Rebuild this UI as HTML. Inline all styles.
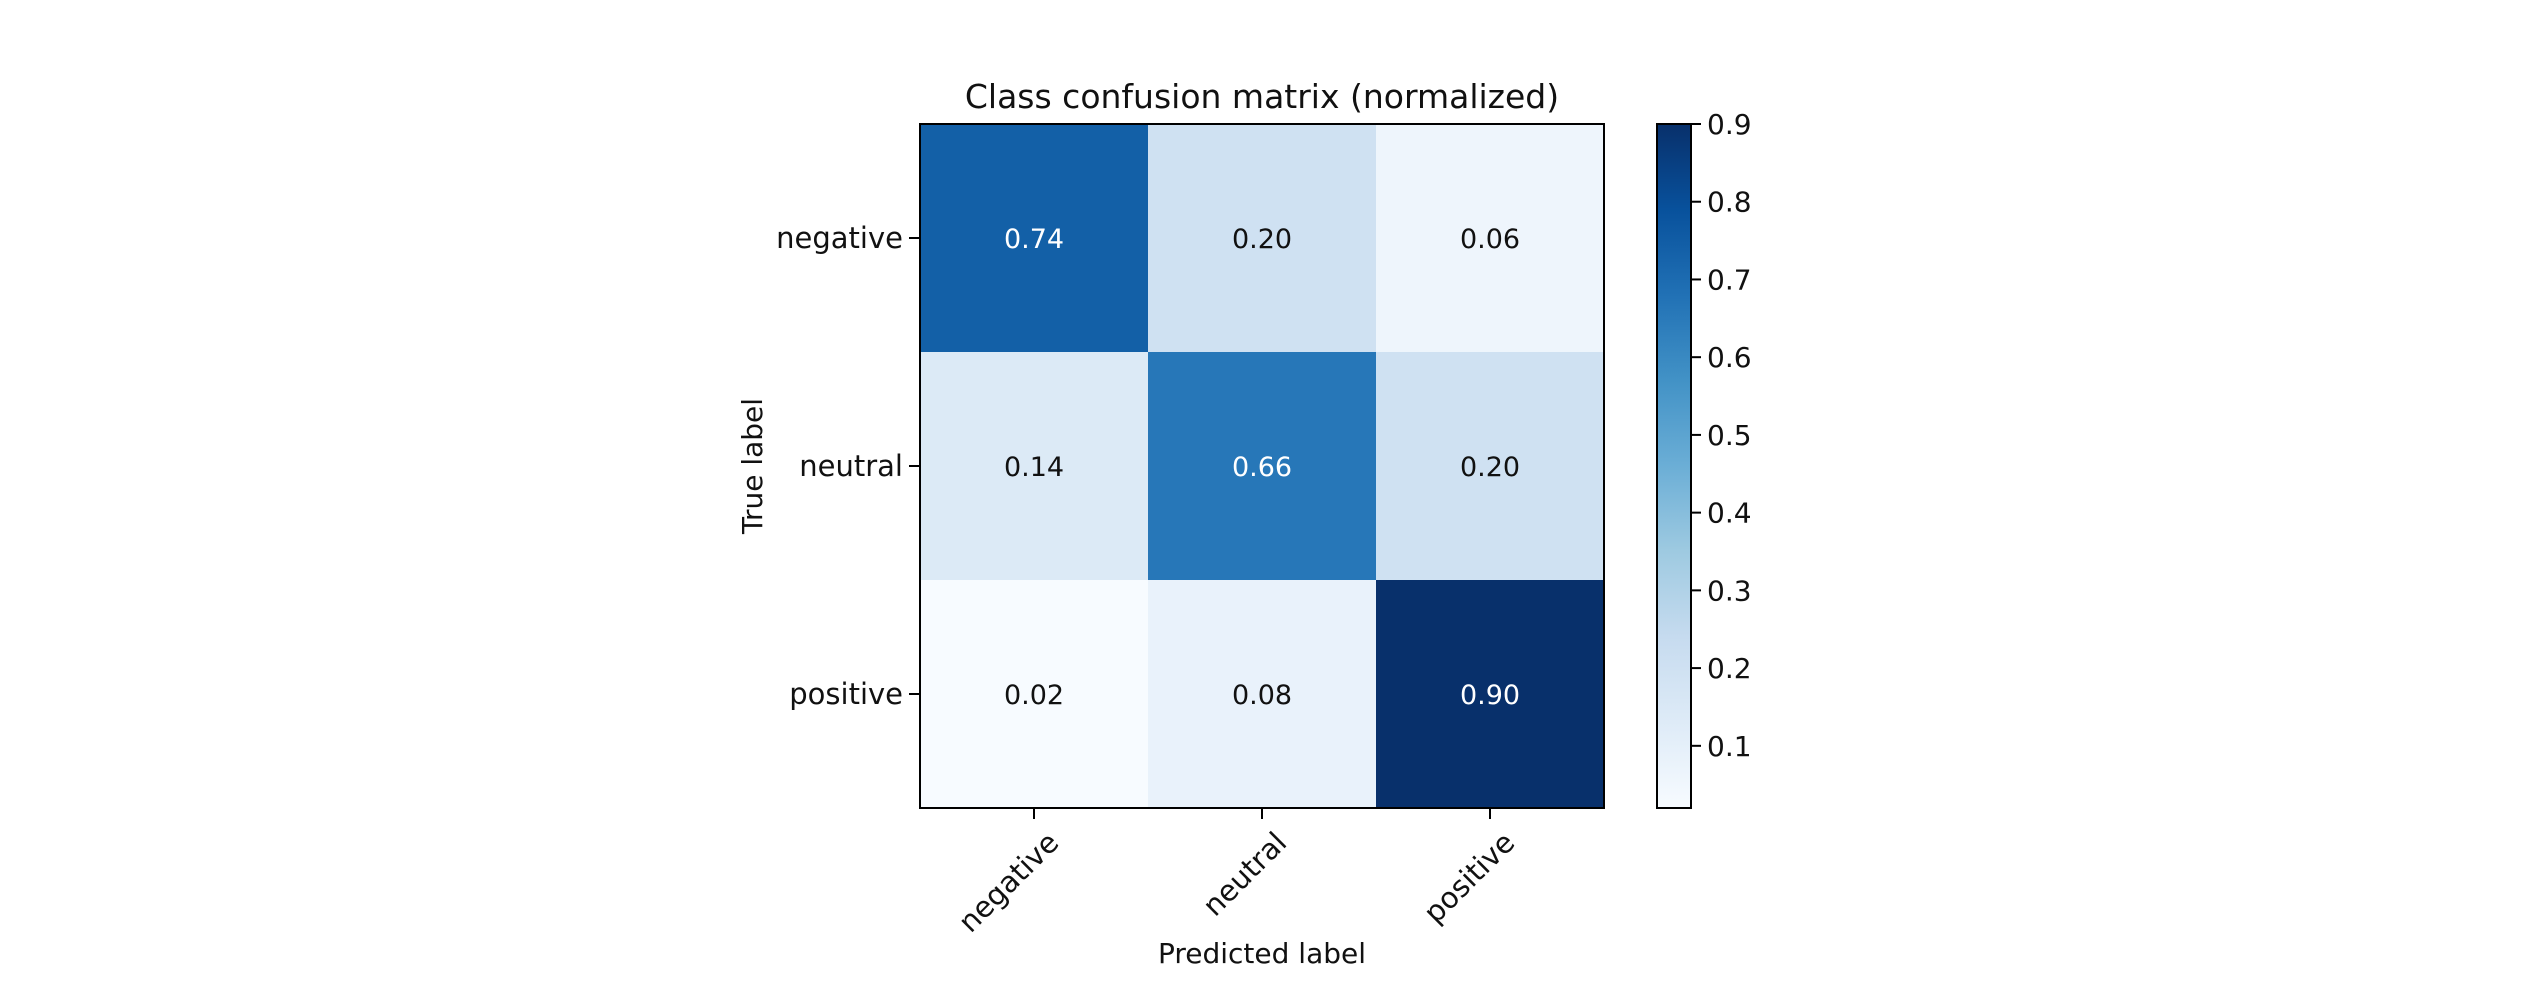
<!DOCTYPE html>
<html><head><meta charset="utf-8"><style>
html,body{margin:0;padding:0;background:#fff;}
svg{display:block;font-family:"DejaVu Sans","Liberation Sans",sans-serif;}
</style></head><body>
<svg id="chart" width="2532" height="984" viewBox="0 0 2532 984">
<text x="1262" y="108" font-size="33" text-anchor="middle" fill="#111">Class confusion matrix (normalized)</text>
<g id="cells"></g>
<rect x="920" y="124" width="684" height="684" fill="none" stroke="#000" stroke-width="2"/>
<g id="axes"></g>
<text x="1262" y="963" font-size="28" text-anchor="middle" fill="#111">Predicted label</text>
<text transform="translate(762,466) rotate(-90)" font-size="28" text-anchor="middle" fill="#111">True label</text>
<defs><linearGradient id="cbgrad" x1="0" y1="1" x2="0" y2="0"></linearGradient></defs>
<g id="colorbar"></g>
</svg>
<script>
const classes = ["negative","neutral","positive"];
const row0 = [0.74,0.20,0.06];
const row1 = [0.14,0.66,0.20];
const row2 = [0.02,0.08,0.90];
const matrix = [row0,row1,row2];
const cbTicks = [0.1,0.2,0.3,0.4,0.5,0.6,0.7,0.8,0.9];

const NS="http://www.w3.org/2000/svg";
const L=920,T=124,W=684,H=684;
const n=classes.length, cw=W/n, ch=H/n;
const all=matrix.flat();
const vmin=Math.min(...all), vmax=Math.max(...all);
const stops=["#f7fbff","#deebf7","#c6dbef","#9ecae1","#6baed6","#4292c6","#2171b5","#08519c","#08306b"];
function hex(h){return [1,3,5].map(i=>parseInt(h.substr(i,2),16));}
function blues(t){t=Math.max(0,Math.min(1,t));const p=t*(stops.length-1);const i=Math.min(stops.length-2,Math.floor(p));const f=p-i;const a=hex(stops[i]),b=hex(stops[i+1]);return "rgb("+a.map((v,k)=>Math.round(v+(b[k]-v)*f)).join(",")+")";}
function norm(v){return (v-vmin)/(vmax-vmin);}
function xc(j){return L+cw*(j+0.5);}
function yc(i){return T+ch*(i+0.5);}
function mk(tag,attrs,parent){const e=document.createElementNS(NS,tag);for(const k in attrs)e.setAttribute(k,attrs[k]);parent.appendChild(e);return e;}
const cells=document.getElementById("cells");
const thresh=vmax/2;
for(let i=0;i<n;i++)for(let j=0;j<n;j++){
  const v=matrix[i][j];
  const r=mk("rect",{x:L+cw*j,y:T+ch*i,width:cw+0.5,height:ch+0.5,fill:blues(norm(v))},cells);
  
  
  const t=mk("text",{x:xc(j),y:yc(i)+10,"font-size":27,"text-anchor":"middle",fill:v>thresh?"#fff":"#111"},cells);
  t.textContent=v.toFixed(2);
  
  
}
const axes=document.getElementById("axes");
for(let k=0;k<n;k++){
  const ty=mk("line",{x1:L-11,x2:L,y1:yc(k),y2:yc(k),stroke:"#000","stroke-width":2},axes);
  
  
  const ly=mk("text",{x:L-17,y:yc(k)+10,"font-size":29,"text-anchor":"end",fill:"#111"},axes);
  ly.textContent=classes[k];
  
  
  const tx=mk("line",{x1:xc(k),x2:xc(k),y1:T+H,y2:T+H+11,stroke:"#000","stroke-width":2},axes);
  
  
  const lx=mk("text",{transform:"translate("+(xc(k)+12)+","+(T+H+22)+") rotate(-45)","font-size":29,"text-anchor":"end",fill:"#111",dy:"0.7em"},axes);
  lx.textContent=classes[k];
  
  
}
const grad=document.getElementById("cbgrad");
stops.forEach((c,i)=>{mk("stop",{offset:(i/(stops.length-1)),"stop-color":c},grad);});
const cb=document.getElementById("colorbar");
const CX=1657,CW=34;
function cy(v){return T+H-(v-vmin)/(vmax-vmin)*H;}
mk("rect",{x:CX,y:T,width:CW,height:H,fill:"url(#cbgrad)",stroke:"#000","stroke-width":2},cb);
cbTicks.forEach(v=>{
  const y=cy(v);
  const l=mk("line",{x1:CX+CW,x2:CX+CW+10,y1:y,y2:y,stroke:"#000","stroke-width":2},cb);
  
  
  const t=mk("text",{x:CX+CW+16,y:y+10,"font-size":28,fill:"#111"},cb);
  t.textContent=v.toFixed(1);
  
  
});
</script>
</body></html>
